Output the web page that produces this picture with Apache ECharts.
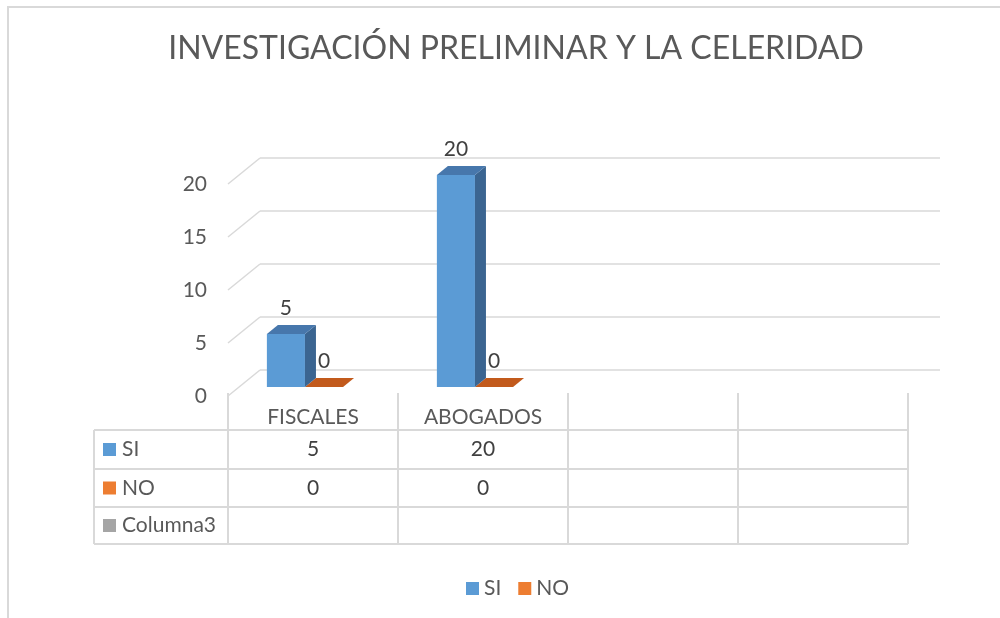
<!DOCTYPE html>
<html>
<head>
<meta charset="utf-8">
<script src="https://cdn.jsdelivr.net/npm/echarts/dist/echarts.min.js"></script>
<style>
html, body { margin: 0; background: #fff; }
#main { width: 1000px; height: 618px; }
</style>
</head>
<body>
<div id="main"></div>
<script>
// data
var categories = ['FISCALES', 'ABOGADOS', '', ''];
var seriesNames = ['SI', 'NO', 'Columna3'];
var siData = [5, 20, null, null];
var noData = [0, 0, null, null];
var col3Data = [null, null, null, null];
var yTicks = [0, 5, 10, 15, 20];

var allData = [siData, noData, col3Data];
var colors = ['#5B9BD5', '#ED7D31', '#A5A5A5'];
var topColors = ['#4777AC', '#C25A1C', '#8a8a8a'];
var sideColors = ['#3B6591', '#A9521E', '#7a7a7a'];
var FONT = 'Lato, "Liberation Sans", sans-serif';
var GRID_C = '#d9d9d9';

// floor depth (front plane -> back wall)
var DX = 32, DY = -26;
// bar front / back depth offsets
var B1 = [11, -9], B2 = [22, -18];
// table rows (y)
var TBL_TOP = 393, ROWS = [430, 469, 507, 544];

var chart = echarts.init(document.getElementById('main'));

// wall gridlines (back wall + left side wall)
function wallItem(params, api) {
  var cs = params.coordSys;
  var p = api.coord([0, api.value(1)]);
  var y = p[1];
  return {
    type: 'group',
    children: [
      { type: 'line', shape: { x1: cs.x, y1: y, x2: cs.x + DX, y2: y + DY },
        style: { stroke: GRID_C, lineWidth: 1.5 } },
      { type: 'line', shape: { x1: cs.x + DX, y1: y + DY, x2: cs.x + cs.width + DX, y2: y + DY },
        style: { stroke: GRID_C, lineWidth: 1.5 } }
    ]
  };
}

function barItem(s) {
  return function (params, api) {
    var v = api.value(1);
    if (v == null || isNaN(v)) return;
    var base = api.coord([api.value(0), 0]);
    var top = api.coord([api.value(0), v]);
    var band = api.size([1, 0])[0];
    var w = band * 0.224;
    var x0 = base[0] - 1.5 * w + s * w + B1[0];
    var yb = base[1] + B1[1], yt = top[1] + B1[1];
    var ox = B2[0] - B1[0], oy = B2[1] - B1[1];
    var ch = [];
    if (yb - yt > 0.5) {
      ch.push({ type: 'rect', shape: { x: x0, y: yt, width: w, height: yb - yt },
        style: { fill: colors[s] } });
      ch.push({ type: 'polygon', shape: { points: [[x0 + w, yt], [x0 + w + ox, yt + oy], [x0 + w + ox, yb + oy], [x0 + w, yb]] },
        style: { fill: sideColors[s] } });
    }
    ch.push({ type: 'polygon', shape: { points: [[x0, yt], [x0 + w, yt], [x0 + w + ox, yt + oy], [x0 + ox, yt + oy]] },
      style: { fill: topColors[s] } });
    ch.push({ type: 'text', style: { text: String(v), x: x0 + w / 2, y: yt + oy - 6,
      align: 'center', verticalAlign: 'bottom', fill: '#404040', font: '21px ' + FONT } });
    return { type: 'group', children: ch };
  };
}

function tableItem(params, api) {
  var i = api.value(0);
  var c = api.coord([i, 0]);
  var band = api.size([1, 0])[0];
  var l = c[0] - band / 2, r = c[0] + band / 2;
  var ls = { stroke: GRID_C, lineWidth: 2 };
  var ch = [];
  ch.push({ type: 'line', shape: { x1: r, y1: TBL_TOP, x2: r, y2: ROWS[3] }, style: ls });
  if (i === 0) ch.push({ type: 'line', shape: { x1: l, y1: TBL_TOP, x2: l, y2: ROWS[3] }, style: ls });
  ROWS.forEach(function (y) {
    ch.push({ type: 'line', shape: { x1: l, y1: y, x2: r, y2: y }, style: ls });
  });
  allData.forEach(function (d, k) {
    if (d[i] == null) return;
    ch.push({ type: 'text', style: { text: String(d[i]), x: c[0], y: (ROWS[k] + ROWS[k + 1]) / 2,
      align: 'center', verticalAlign: 'middle', fill: '#404040', font: '21px ' + FONT } });
  });
  return { type: 'group', children: ch };
}

// left header column of the data table
var headerGraphics = [
  { type: 'line', shape: { x1: 94, y1: ROWS[0], x2: 94, y2: ROWS[3] }, style: { stroke: GRID_C, lineWidth: 2 } }
];
ROWS.forEach(function (y) {
  headerGraphics.push({ type: 'line', shape: { x1: 94, y1: y, x2: 228, y2: y }, style: { stroke: GRID_C, lineWidth: 2 } });
});
seriesNames.forEach(function (n, k) {
  var yc = (ROWS[k] + ROWS[k + 1]) / 2;
  headerGraphics.push({ type: 'rect', shape: { x: 103, y: yc - 6.5, width: 13, height: 13 }, style: { fill: colors[k] } });
  headerGraphics.push({ type: 'text', style: { text: n, x: 122, y: yc, verticalAlign: 'middle',
    fill: '#595959', font: '21px ' + FONT } });
});
// chart frame
headerGraphics.push({ type: 'polyline', shape: { points: [[1000, 7], [8, 7], [8, 618]] },
  style: { stroke: GRID_C, lineWidth: 2, fill: null } });

var option = {
  animation: false,
  title: {
    text: 'INVESTIGACIÓN PRELIMINAR Y LA CELERIDAD',
    left: 511, top: 28, textAlign: 'center',
    textStyle: { fontFamily: FONT, fontSize: 32, fontWeight: 'normal', color: '#595959' }
  },
  legend: {
    data: ['SI', 'NO'],
    left: 461, top: 573,
    icon: 'rect', itemWidth: 13, itemHeight: 13, itemGap: 17,
    textStyle: { fontFamily: FONT, fontSize: 21, color: '#595959' }
  },
  graphic: headerGraphics,
  grid: { left: 228, width: 680, top: 184, height: 212 },
  xAxis: {
    type: 'category', data: categories,
    axisLine: { show: false }, axisTick: { show: false },
    axisLabel: { interval: 0, margin: 11, fontFamily: FONT, fontSize: 21, color: '#595959' }
  },
  yAxis: {
    type: 'value', min: 0, max: 20, interval: 5,
    splitLine: { show: false }, axisLine: { show: false }, axisTick: { show: false },
    axisLabel: { margin: 21, fontFamily: FONT, fontSize: 21, color: '#595959' }
  },
  series: [
    { type: 'custom', name: 'walls', renderItem: wallItem, z: 1, silent: true,
      data: yTicks.map(function (v) { return [0, v]; }) },
    { type: 'custom', name: 'SI', renderItem: barItem(0), z: 3, itemStyle: { color: colors[0] },
      data: siData.map(function (v, i) { return [i, v]; }) },
    { type: 'custom', name: 'NO', renderItem: barItem(1), z: 2, itemStyle: { color: colors[1] },
      data: noData.map(function (v, i) { return [i, v]; }) },
    { type: 'custom', name: 'table', renderItem: tableItem, z: 1, silent: true,
      data: categories.map(function (c, i) { return [i, 0]; }) }
  ]
};
chart.setOption(option);
</script>
</body>
</html>
